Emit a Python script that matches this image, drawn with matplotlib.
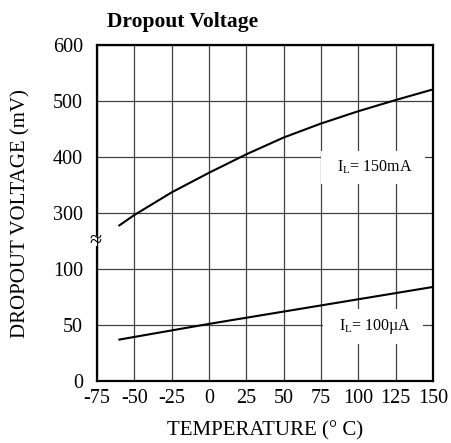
import numpy as np
import matplotlib

matplotlib.use("Agg")
import matplotlib.pyplot as plt

plt.rcParams["font.family"] = ["Liberation Serif", "DejaVu Serif"]
plt.rcParams["mathtext.fontset"] = "custom"
plt.rcParams["mathtext.rm"] = "Liberation Serif"
plt.rcParams["mathtext.it"] = "Liberation Serif:italic"
plt.rcParams["axes.unicode_minus"] = False

# data
temp_150ma = [-60, -50, -25, 0, 25, 50, 75, 100, 125, 150]
vdo_150ma = [256, 293, 337, 372, 405, 435, 460, 482, 502, 521]
temp_100ua = [-60, 0, 50, 100, 150]
vdo_100ua = [37, 51, 62, 73, 84]

x_ticks = [-75, -50, -25, 0, 25, 50, 75, 100, 125, 150]
y_ticks = [0, 50, 100, 300, 400, 500, 600]

# broken axis: 0-100 in 50 mV bands, 100-300 squeezed into one band, then 100 mV bands
BRK_V = [0, 100, 300, 600]
BRK_P = [0, 2, 3, 6]


def fwd(v):
    return np.interp(v, BRK_V, BRK_P)


def inv(p):
    return np.interp(p, BRK_P, BRK_V)


fig = plt.figure(figsize=(4.51, 4.43), dpi=100)
ax = fig.add_axes([0.215, 0.140, 0.745, 0.758])
ax.set_yscale("function", functions=(fwd, inv))

ax.plot(temp_150ma, vdo_150ma, color="black", lw=1.5)
ax.plot(temp_100ua, vdo_100ua, color="black", lw=1.5)

ax.set_xlim(-75, 150)
ax.set_ylim(0, 600)
ax.set_xticks(x_ticks)
ax.set_yticks(y_ticks)
ax.tick_params(length=0, labelsize=14.5)
ax.tick_params(axis="x", pad=6)
ax.tick_params(axis="y", pad=10)
ax.grid(True, color="0.25", lw=0.9)
for s in ax.spines.values():
    s.set_linewidth(1.6)

ax.set_xlabel("TEMPERATURE (° C)", fontsize=15, labelpad=9)
ax.set_ylabel("DROPOUT VOLTAGE (mV)", fontsize=15, labelpad=16)

box = dict(boxstyle="square,pad=0.5", fc="white", ec="none")
ax.text(110, 381, r"  I$_{\mathrm{L}}$= 150mA  ", fontsize=11.5, ha="center", va="center", bbox=box, zorder=3)
ax.text(110, 49, r"  I$_{\mathrm{L}}$= 100µA  ", fontsize=11.5, ha="center", va="center", bbox=box, zorder=3)

# break mark on the y axis
ax.text(-0.005, 200, "≈", transform=ax.get_yaxis_transform(), fontsize=16, ha="center", va="center",
        bbox=dict(boxstyle="square,pad=-0.2", fc="white", ec="none"), zorder=4, clip_on=False)

fig.text(0.237, 0.95, "Dropout Voltage", fontsize=15.5, fontweight="bold", ha="left", va="center")

fig.savefig("out.png", dpi=100)
